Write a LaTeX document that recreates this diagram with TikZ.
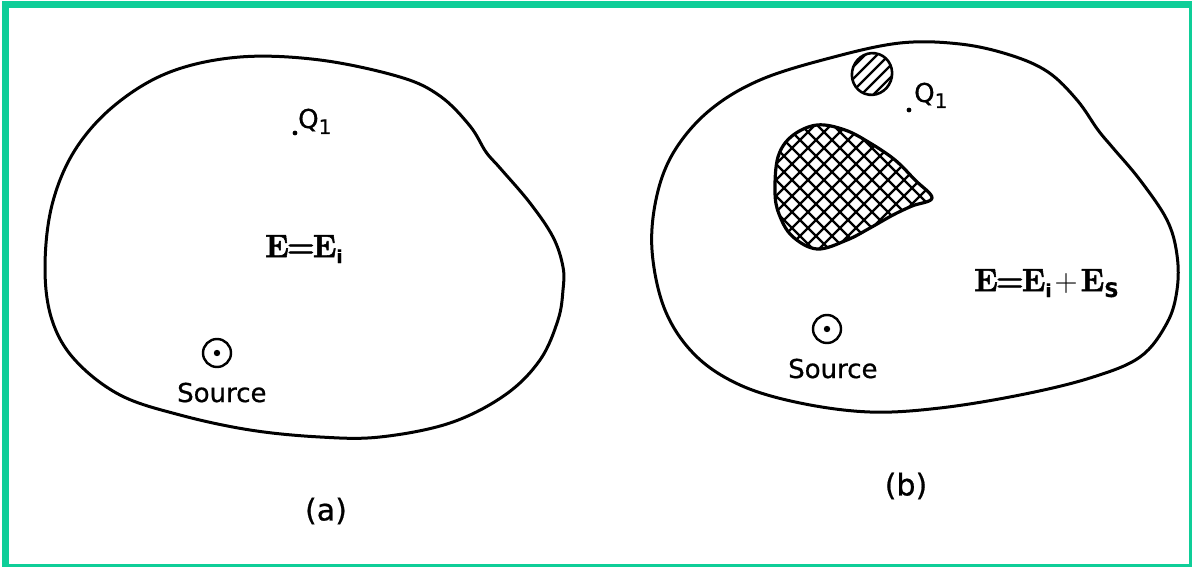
\documentclass[tikz,border=0pt]{standalone}
\usepackage{fontspec}
\newfontfamily\lab{DejaVu Sans}[FakeBold=0.7]
\newfontfamily\eqf{Latin Modern Roman}[BoldFeatures={FakeBold=1.6}]
\definecolor{framecol}{RGB}{14,206,152}
\begin{document}
\begin{tikzpicture}[x=1pt,y=-1pt,
  outline/.style={line width=3pt,line join=round},
  lbl/.style={font=\lab\fontsize{26}{28}\selectfont,inner sep=0pt},
  captext/.style={font=\lab\fontsize{30}{32}\selectfont,inner sep=0pt},
  eq/.style={font=\eqf\fontsize{32}{34}\selectfont,inner sep=0pt},
  hatch/.style={line width=2.2pt}]
\useasboundingbox (0,0) rectangle (1192,567);
\clip (0,0) rectangle (1192,567);
\fill[white] (0,0) rectangle (1192,567);
\draw[framecol,line width=7pt] (5.5,4.5) rectangle (1192.5,567.5);

% ---------- (a) ----------
\draw[outline] plot[smooth cycle,tension=0.6] coordinates {
 (45,268) (52,205) (75,150) (115,105) (170,72) (240,57) (320,60) (400,77)
 (440,96) (470,126) (486,152) (500,168) (530,203) (553,237)
 (563,267) (563,290) (558,320) (540,360) (505,395) (450,423) (380,437)
 (320,437) (250,430) (180,415) (120,395) (75,360) (52,320)};

\fill (295,133) circle (2.4);
\node[lbl,anchor=base west] (qa) at (298,128) {Q\raisebox{-6pt}{\fontsize{20}{20}\selectfont 1}};

\node[eq,anchor=base west] (ea) at (265,257) {\bfseries E\kern-2pt=\kern-2pt E\raisebox{-6pt}{\lab\fontsize{18}{18}\selectfont i}};

\node[draw,circle,line width=2.4pt,minimum size=28pt,inner sep=0pt] (sa) at (217,353) {};
\fill (sa.center) circle (3.2);
\node[lbl,anchor=base west] (sla) at (177,402) {Source};

\node[captext] (capa) at (326,511) {(a)};

% ---------- (b) ----------
\draw[outline] plot[smooth cycle,tension=0.6] coordinates {
 (652,250) (657,195) (675,150) (710,110) (760,80) (830,58) (900,43) (960,44)
 (1010,55) (1048,72) (1077,100) (1098,130) (1113,148) (1140,180) (1167,220)
 (1177,255) (1177,290) (1167,323) (1140,357) (1090,378) (1020,395) (940,408)
 (870,412) (800,403) (740,385) (695,355) (665,310)};

% small hatched scatterer
\begin{scope}
\clip[rotate around={-20:(872,74)}] (872,74) ellipse (20 and 21);
\foreach \x in {800,812,...,960} \draw[hatch] (\x,120) -- ++(80,-80);
\end{scope}
\draw[line width=2.6pt,rotate around={-20:(872,74)}] (872,74) ellipse (20 and 21);

% cross-hatched scatterer
\def\scat{plot[smooth cycle,tension=0.6] coordinates {
 (775,192) (778,157) (792,136) (817,125) (845,130) (870,143) (895,160)
 (915,180) (932,198) (912,206) (893,215) (870,228) (847,240) (817,249)
 (792,236) (779,214)}}
\begin{scope}
\clip \scat;
\foreach \x in {760,776,...,1140} \draw[hatch] (\x,100) -- ++(-200,200);
\foreach \x in {552,568,...,950} \draw[hatch] (\x,100) -- ++(200,200);
\end{scope}
\draw[line width=3.2pt,line join=round] \scat;

\fill (909,110) circle (2.4);
\node[lbl,anchor=base west] (qb) at (914,102) {Q\raisebox{-6pt}{\fontsize{20}{20}\selectfont 1}};

\node[eq,anchor=base west] (eb) at (974,291) {\bfseries E\kern-2pt=\kern-2pt E\raisebox{-6pt}{\lab\fontsize{18}{18}\selectfont i}\kern3pt\mdseries+\kern3pt\bfseries E\raisebox{-6pt}{\lab\fontsize{20}{20}\selectfont S}};

\node[draw,circle,line width=2.4pt,minimum size=28pt,inner sep=0pt] (sb) at (827,329) {};
\fill (sb.center) circle (3.2);
\node[lbl,anchor=base west] (slb) at (788,378) {Source};

\node[captext] (capb) at (906,486) {(b)};
\end{tikzpicture}
\end{document}
